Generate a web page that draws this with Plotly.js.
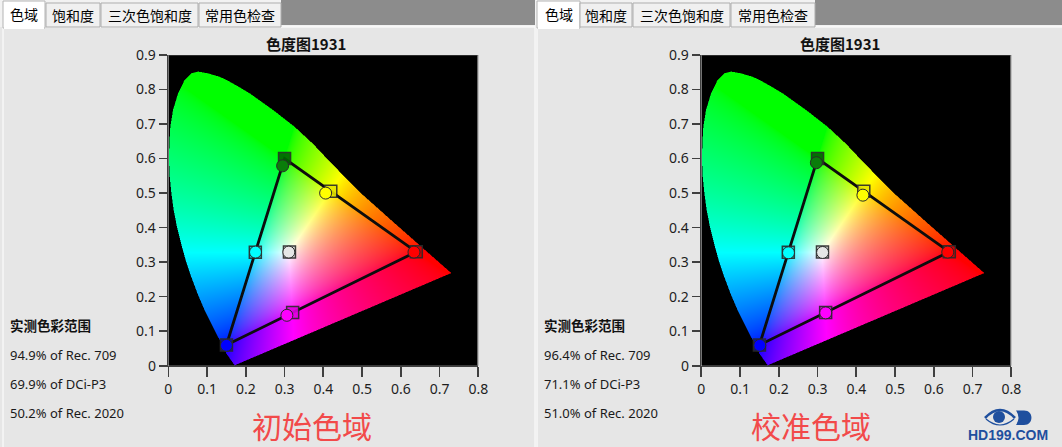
<!DOCTYPE html>
<html><head><meta charset="utf-8">
<script src="https://cdn.plot.ly/plotly-3.0.1.min.js"></script>
<style>html,body{margin:0;padding:0;background:#e6e6e6;overflow:hidden}#chart{width:1062px;height:447px}</style>
</head><body><div id="chart"></div>
<script>
// ---------- data ----------
// spectral locus outline as drawn in the reference (x, y chromaticity)
const LOCUS_X = [0.172,0.1507,0.138,0.116,0.0947,0.076,0.060,0.0457,0.0336,0.023,0.0147,0.0088,0.0044,0.0026,0.0035,0.006,0.013,0.026,0.043,0.060,0.0775,0.103,0.133,0.151,0.1825,0.211,0.271,0.327,0.375,0.417,0.495,0.581,0.667,0.731];
const LOCUS_Y = [0.002,0.036,0.065,0.113,0.161,0.210,0.258,0.306,0.355,0.403,0.451,0.499,0.548,0.596,0.644,0.692,0.741,0.789,0.828,0.847,0.852,0.847,0.837,0.828,0.808,0.789,0.741,0.692,0.642,0.592,0.503,0.417,0.332,0.269];

const POINT_NAMES   = ['红','绿','蓝','青','品红','黄','白'];
const CIRCLE_COLORS = ['#ff0000','#0a7d0a','#0000ff','#00ffff','#ff00ff','#ffff00','#e6e6e6'];
const SQUARE_COLORS = ['#c80000','#006400','#0000c8','#00d8d8','#e000e0','#e6e600','#dcdcdc'];

// Rec.709 targets (squares)
const TARGET_X = [0.640,0.300,0.150,0.2246,0.3209,0.4193,0.3127];
const TARGET_Y = [0.330,0.600,0.060,0.3287,0.1542,0.5053,0.3290];
// measured, initial gamut (circles, left)
const INITIAL_X = [0.634,0.295,0.150,0.225,0.306,0.406,0.311];
const INITIAL_Y = [0.329,0.579,0.059,0.329,0.146,0.500,0.329];
// measured, calibrated gamut (circles, right)
const CALIB_X = [0.636,0.297,0.151,0.225,0.321,0.417,0.313];
const CALIB_Y = [0.329,0.588,0.059,0.327,0.153,0.494,0.328];
// triangle order (R -> G -> B -> R)
const TRIANGLE_ORDER = [0,1,2,0];

const X_TICKS = [0,0.1,0.2,0.3,0.4,0.5,0.6,0.7,0.8];
const X_TICK_LABELS = ['0','0.1','0.2','0.3','0.4','0.5','0.6','0.7','0.8'];
const Y_TICKS = [0,0.1,0.2,0.3,0.4,0.5,0.6,0.7,0.8,0.9];
const Y_TICK_LABELS = ['0','0.1','0.2','0.3','0.4','0.5','0.6','0.7','0.8','0.9'];

const TABS = ['色域','饱和度','三次色饱和度','常用色检查'];
const PANEL_TITLE = '色度图1931';
const COVERAGE_HEADER = '实测色彩范围';
const INITIAL_COVERAGE = ['94.9% of Rec. 709','69.9% of DCi-P3','50.2% of Rec. 2020'];
const CALIB_COVERAGE   = ['96.4% of Rec. 709','71.1% of DCi-P3','51.0% of Rec. 2020'];
const PANEL_LABELS = ['初始色域','校准色域'];
const LOGO_TEXT = 'HD199.COM';

// ---------- helpers ----------
const W = 1062, H = 447;
const fx = p => p / W, fy = p => 1 - p / H;
const CJK = 'Noto Sans CJK SC, sans-serif';
const LAT = 'Noto Sans, sans-serif';

function insideLocus(px, py) {
  let c = false; const n = LOCUS_X.length;
  for (let i = 0, j = n - 1; i < n; j = i++) {
    const xi = LOCUS_X[i], yi = LOCUS_Y[i], xj = LOCUS_X[j], yj = LOCUS_Y[j];
    if (((yi > py) !== (yj > py)) && (px < (xj - xi) * (py - yi) / (yj - yi) + xi)) c = !c;
  }
  return c;
}
function gam(v){ return Math.pow(v, 0.6); }
function xyToRGB(x, y) {
  y = Math.max(y, 1e-4);
  const X = x / y, Y = 1, Z = (1 - x - y) / y;
  let r =  3.2406*X - 1.5372*Y - 0.4986*Z;
  let g = -0.9689*X + 1.8758*Y + 0.0415*Z;
  let b =  0.0557*X - 0.2040*Y + 1.0570*Z;
  r = Math.max(r,0); g = Math.max(g,0); b = Math.max(b,0);
  const m = Math.max(r,g,b) || 1;
  return [gam(r/m), gam(g/m), gam(b/m)];
}
// chromaticity background image built from the locus outline
const NX = 310, NY = 311, XR = 0.8, YR = 0.9;
const DX = XR / NX, DY = YR / NY;
const IMG = [];
for (let r = 0; r < NY; r++) {
  const row = [];
  for (let c = 0; c < NX; c++) {
    let cov = 0;
    for (let s = 0; s < 4; s++) {
      const sx = (c + 0.25 + 0.5*(s%2)) * DX, sy = (r + 0.25 + 0.5*Math.floor(s/2)) * DY;
      if (insideLocus(sx, sy)) cov++;
    }
    if (cov === 0) { row.push([0,0,0]); continue; }
    const col = xyToRGB((c+0.5)*DX, (r+0.5)*DY);
    const k = cov / 4;
    row.push([Math.round(col[0]*255*k), Math.round(col[1]*255*k), Math.round(col[2]*255*k)]);
  }
  IMG.push(row);
}

function chartTraces(xa, ya, mx, my) {
  return [
    {type:'image', z: IMG, x0: DX/2, dx: DX, y0: DY/2, dy: DY, xaxis: xa, yaxis: ya, hoverinfo:'skip'},
    {type:'scatter', mode:'lines', xaxis: xa, yaxis: ya, hoverinfo:'skip', showlegend:false,
     x: TRIANGLE_ORDER.map(i => TARGET_X[i]), y: TRIANGLE_ORDER.map(i => TARGET_Y[i]),
     line:{color:'#0d0d0d', width:2.8}},
    {type:'scatter', mode:'markers', xaxis: xa, yaxis: ya, showlegend:false, text: POINT_NAMES,
     x: TARGET_X, y: TARGET_Y,
     marker:{symbol:'square', size:12, color: SQUARE_COLORS, opacity:0.9, line:{color:'#2a2a2a', width:1.5}}},
    {type:'scatter', mode:'markers', xaxis: xa, yaxis: ya, showlegend:false, text: POINT_NAMES,
     x: mx, y: my,
     marker:{symbol:'circle', size:12, color: CIRCLE_COLORS, line:{color:'#2a2a2a', width:1}}}
  ];
}
const data = [].concat(chartTraces('x','y', INITIAL_X, INITIAL_Y), chartTraces('x2','y2', CALIB_X, CALIB_Y));

function axisX(d0, d1, anchor) {
  return {domain:[fx(d0), fx(d1)], range:[0,0.8], anchor: anchor, tickmode:'array', tickvals: X_TICKS, ticktext: X_TICK_LABELS,
    ticks:'outside', ticklen:10, tickwidth:1.6, tickcolor:'#404040', showline:true, linecolor:'#404040', linewidth:1.6,
    showgrid:false, zeroline:false, fixedrange:true, tickfont:{family: LAT, size:14, color:'#1e1e1e'}};
}
function axisY(anchor) {
  return {domain:[fy(365.7), fy(55)], range:[0,0.9], anchor: anchor, autorange:false, scaleanchor:false, tickmode:'array', tickvals: Y_TICKS, ticktext: Y_TICK_LABELS,
    ticks:'outside', ticklen:8, tickwidth:1.6, tickcolor:'#404040', showline:true, linecolor:'#404040', linewidth:1.6,
    showgrid:false, zeroline:false, fixedrange:true, tickfont:{family: LAT, size:14, color:'#1e1e1e'}};
}

// ---------- decoration ----------
const shapes = [];
function rect(x0,y0,x1,y1,fill,line,lw,layer){
  shapes.push({type:'rect', xref:'paper', yref:'paper', x0:fx(x0), x1:fx(x1), y0:fy(y1), y1:fy(y0),
    fillcolor:fill, line:{color: line || 'rgba(0,0,0,0)', width: lw || 0}, layer: layer || 'below'});
}
function seg(x0,y0,x1,y1,color,w,xr,yr){
  shapes.push({type:'line', xref: xr, yref: yr, x0:x0, x1:x1, y0:y0, y1:y1, line:{color:color, width:w}, layer:'above'});
}
const annotations = [];
function txt(text, x, y, opts){
  annotations.push(Object.assign({text:text, xref:'paper', yref:'paper', x:fx(x), y:fy(y), showarrow:false,
    xanchor:'center', yanchor:'middle', font:{family: CJK, size:14, color:'#111'}}, opts || {}));
}

// top strip
rect(0,0,W,27,'#f2f2f2');
const TAB_SETS = [
  {bar:[281,535], tabs:[[3,45],[46,100],[101,198],[199,281]]},
  {bar:[815,W], tabs:[[537,580],[580,632],[633,730],[731,815]]}
];
TAB_SETS.forEach((set, si) => {
  rect(set.bar[0], 0, set.bar[1], 25, '#8c8c8c');
  const px0 = si === 0 ? 3 : 537, px1 = si === 0 ? 535 : W + 2;
  rect(px0, 27, px1, H + 2, '#e6e6e6', '#ffffff', 1);
  set.tabs.forEach((t, i) => {
    if (i === 0) {
      rect(t[0], 1, t[1], 28, '#ffffff', '#b4b4b4', 1);
      rect(t[0]+1, 26, t[1]-1, 29, '#ffffff');
      txt(TABS[i], (t[0]+t[1])/2, 13.5, {font:{family: CJK, size:14, color:'#000'}});
    } else {
      rect(t[0], 3, t[1], 27, '#f0f0f0', '#adadad', 1);
      txt(TABS[i], (t[0]+t[1])/2, 15, {font:{family: CJK, size:14, color:'#000'}});
    }
  });
});

// plot frames (right / top grey edges)
[['x','y'],['x2','y2']].forEach(([xa, ya]) => {
  seg(0.8, 0, 0.8, 0.9, '#9a9a9a', 2, xa, ya);
  seg(0, 0.9, 0.8, 0.9, '#5a5a5a', 1, xa, ya);
});

// panel texts
[[0, INITIAL_COVERAGE, PANEL_LABELS[0], 312], [534, CALIB_COVERAGE, PANEL_LABELS[1], 811]].forEach(([ox, cov, lab, lx]) => {
  txt('<b>' + PANEL_TITLE + '</b>', 306 + ox, 43, {font:{family: CJK, size:15, color:'#111'}});
  txt('<b>' + COVERAGE_HEADER + '</b>', 8 + ox, 325, {xanchor:'left', font:{family: CJK, size:13.5, color:'#111'}});
  cov.forEach((c, i) => txt(c, 8 + ox, [355, 384, 412.5][i], {xanchor:'left', font:{family: LAT, size:13, color:'#1a1a1a'}}));
  txt(lab, lx, 425, {font:{family: CJK, size:30, color:'#f24a4a'}});
});

// logo
const LB = '#1f4f9e';
function P(x,y){ return fx(x).toFixed(5) + ',' + fy(y).toFixed(5); }
shapes.push({type:'path', xref:'paper', yref:'paper', layer:'above',
  path:'M' + P(985,418) + ' Q' + P(1000,402) + ' ' + P(1015,418), line:{color:LB, width:2.6}});
shapes.push({type:'path', xref:'paper', yref:'paper', layer:'above',
  path:'M' + P(986,419) + ' Q' + P(1000,431) + ' ' + P(1014,419), line:{color:LB, width:1.2}});
shapes.push({type:'circle', xref:'paper', yref:'paper', layer:'above', x0:fx(993), x1:fx(1005), y0:fy(423), y1:fy(411),
  fillcolor:LB, line:{width:0}});
shapes.push({type:'path', xref:'paper', yref:'paper', layer:'above',
  path:'M' + P(1016,410.5) + ' L' + P(1024,410.5) + ' C' + P(1034,410.5) + ' ' + P(1034,425) + ' ' + P(1024,425) +
       ' L' + P(1016,425) + ' Q' + P(1021,417.7) + ' ' + P(1016,410.5) + ' Z', fillcolor:LB, line:{width:0}});
txt('<b>' + LOGO_TEXT + '</b>', 1008, 435, {font:{family:'Liberation Sans, Arial, sans-serif', size:14, color:LB}});

const layout = {
  width: W, height: H, margin:{l:0,r:0,t:0,b:0,pad:0},
  paper_bgcolor:'#e6e6e6', plot_bgcolor:'#000000', showlegend:false,
  xaxis: axisX(168.3, 478.3, 'y'), yaxis: axisY('x'),
  xaxis2: axisX(701.3, 1011.3, 'y2'), yaxis2: axisY('x2'),
  shapes: shapes, annotations: annotations
};
Plotly.newPlot('chart', data, layout, {displayModeBar:false, staticPlot:true});
</script></body></html>
